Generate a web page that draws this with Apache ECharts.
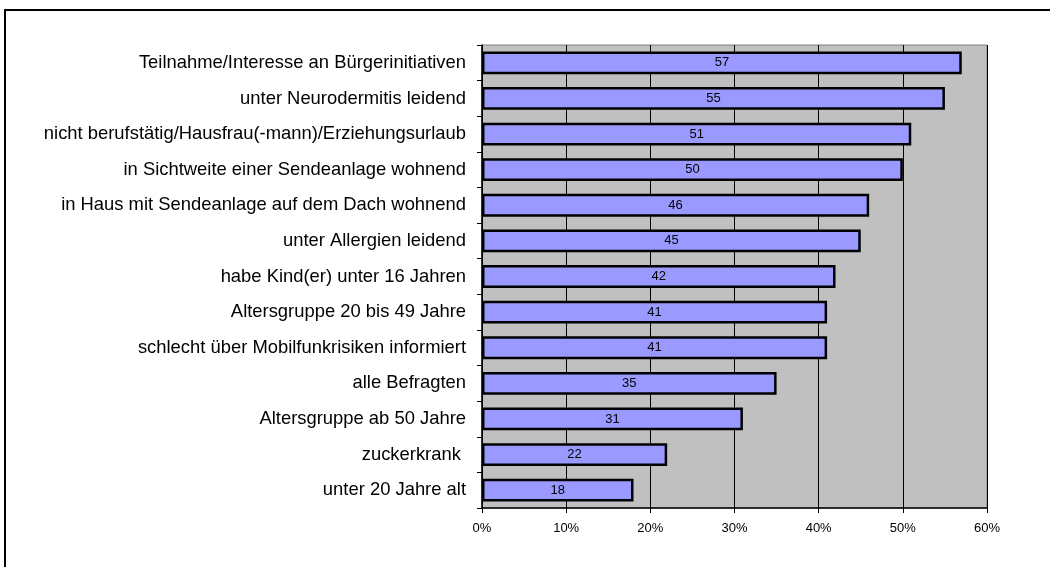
<!DOCTYPE html>
<html>
<head>
<meta charset="utf-8">
<script src="https://cdn.jsdelivr.net/npm/echarts@6/dist/echarts.min.js"></script>
<style>
  html, body { margin: 0; padding: 0; background: #fff; overflow: hidden; }
  #frame {
    position: absolute; left: 4px; top: 9px;
    width: 1100px; height: 600px;
    border-left: 2px solid #000; border-top: 2px solid #000;
  }
  #chart { position: absolute; left: 0; top: 0; width: 1050px; height: 567px; }
</style>
</head>
<body>
<div id="frame"></div>
<div id="chart"></div>
<script>
// Kategorien von oben nach unten
var categories = [
  'Teilnahme/Interesse an Bürgerinitiativen',
  'unter Neurodermitis leidend',
  'nicht berufstätig/Hausfrau(-mann)/Erziehungsurlaub',
  'in Sichtweite einer Sendeanlage wohnend',
  'in Haus mit Sendeanlage auf dem Dach wohnend',
  'unter Allergien leidend',
  'habe Kind(er) unter 16 Jahren',
  'Altersgruppe 20 bis 49 Jahre',
  'schlecht über Mobilfunkrisiken informiert',
  'alle Befragten',
  'Altersgruppe ab 50 Jahre',
  'zuckerkrank ',
  'unter 20 Jahre alt'
];
var values = [57, 55, 51, 50, 46, 45, 42, 41, 41, 35, 31, 22, 18];
var axisMax = 60;
var axisStep = 10;

var myChart = echarts.init(document.getElementById('chart'));
var option = {
  animation: false,
  grid: {
    left: 482,
    top: 45,
    width: 505,
    height: 463,
    show: true,
    backgroundColor: '#C0C0C0',
    borderColor: '#808080',
    borderWidth: 1
  },
  xAxis: {
    type: 'value',
    min: 0,
    max: axisMax,
    interval: axisStep,
    axisLine: { show: true, lineStyle: { color: '#000', width: 1.5 } },
    axisTick: { show: true, length: 5, lineStyle: { color: '#000' } },
    axisLabel: {
      formatter: '{value}%',
      color: '#000',
      fontFamily: 'Liberation Sans, Arial, sans-serif',
      fontSize: 13,
      margin: 14
    },
    splitLine: { show: true, lineStyle: { color: '#000', width: 1 } }
  },
  yAxis: {
    type: 'category',
    inverse: true,
    data: categories,
    axisLine: { show: true, lineStyle: { color: '#000', width: 1.5 } },
    axisTick: { show: true, length: 5, lineStyle: { color: '#000' } },
    axisLabel: {
      color: '#000',
      fontFamily: 'Liberation Sans, Arial, sans-serif',
      fontSize: 18.4,
      margin: 16
    },
    splitLine: { show: false }
  },
  series: [{
    type: 'bar',
    data: values,
    barCategoryGap: '36%',
    itemStyle: {
      color: '#9999FF',
      borderColor: '#000',
      borderWidth: 2.5
    },
    label: {
      show: true,
      position: 'inside',
      color: '#000',
      fontFamily: 'Liberation Sans, Arial, sans-serif',
      fontSize: 13
    }
  }]
};
myChart.setOption(option);
</script>
</body>
</html>
